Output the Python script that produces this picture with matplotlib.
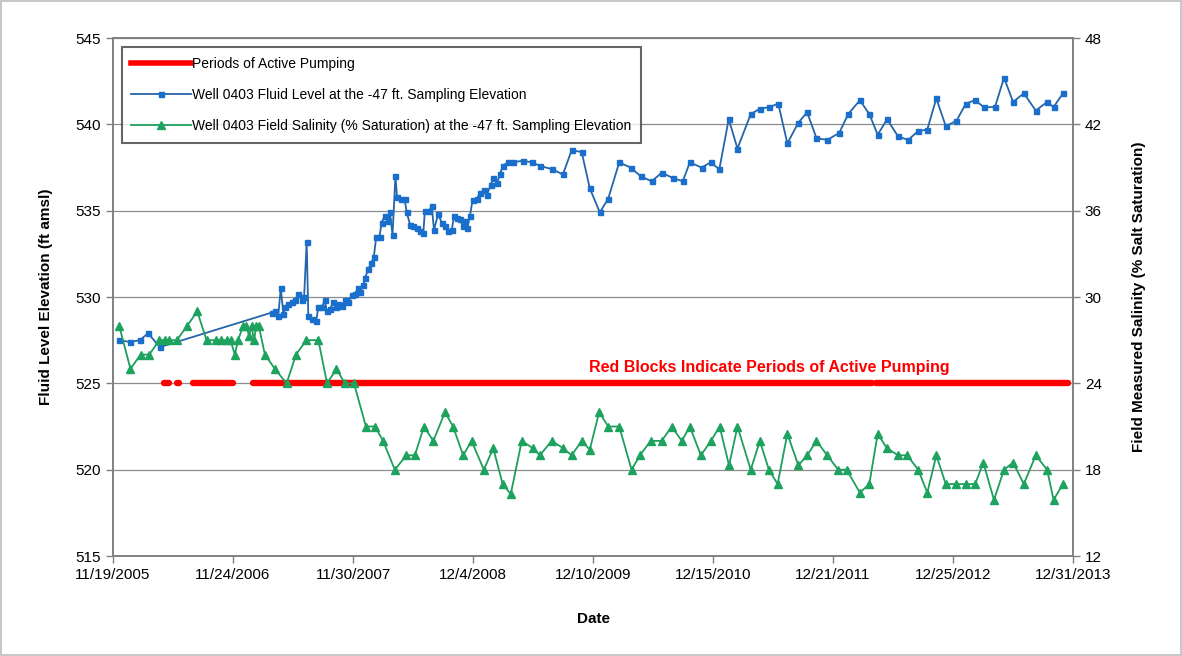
import matplotlib.pyplot as plt
import pandas as pd

plt.rcParams['font.family'] = ['Liberation Sans', 'DejaVu Sans']

# Well 0403 fluid level (ft amsl)
level_dates = [
    '2005-12-07', '2006-01-10', '2006-02-10', '2006-03-07', '2006-04-13',
    '2007-03-24', '2007-04-03', '2007-04-13', '2007-04-21', '2007-04-29',
    '2007-05-04', '2007-05-14', '2007-05-25', '2007-06-04', '2007-06-14',
    '2007-06-25', '2007-07-02', '2007-07-10', '2007-07-15', '2007-07-26',
    '2007-08-08', '2007-08-15', '2007-08-25', '2007-09-04', '2007-09-10',
    '2007-09-20', '2007-09-30', '2007-10-08', '2007-10-15', '2007-10-26',
    '2007-11-05', '2007-11-15', '2007-11-26', '2007-12-06', '2007-12-16',
    '2007-12-22', '2008-01-01', '2008-01-06', '2008-01-16', '2008-01-26',
    '2008-02-02', '2008-02-10', '2008-02-20', '2008-02-26', '2008-03-07',
    '2008-03-18', '2008-03-23', '2008-03-31', '2008-04-09', '2008-04-14',
    '2008-04-26', '2008-05-07', '2008-05-14', '2008-05-24', '2008-06-03',
    '2008-06-14', '2008-06-24', '2008-07-04', '2008-07-09', '2008-07-23',
    '2008-07-30', '2008-08-06', '2008-08-19', '2008-08-30', '2008-09-09',
    '2008-09-19', '2008-09-30', '2008-10-07', '2008-10-17', '2008-10-25',
    '2008-11-03', '2008-11-10', '2008-11-17', '2008-11-25', '2008-12-03',
    '2008-12-16', '2008-12-26', '2009-01-07', '2009-01-16', '2009-01-28',
    '2009-02-05', '2009-02-16', '2009-02-26', '2009-03-06', '2009-03-23',
    '2009-04-08', '2009-05-07', '2009-06-04', '2009-06-29', '2009-08-06',
    '2009-09-08', '2009-10-05', '2009-11-05', '2009-11-30', '2009-12-31',
    '2010-01-26', '2010-03-01', '2010-04-05', '2010-05-06', '2010-06-09',
    '2010-07-10', '2010-08-13', '2010-09-13', '2010-10-05', '2010-11-10',
    '2010-12-08', '2011-01-04', '2011-02-02', '2011-03-01', '2011-04-11',
    '2011-05-09', '2011-06-07', '2011-07-05', '2011-08-02', '2011-09-05',
    '2011-10-02', '2011-10-31', '2011-12-03', '2012-01-09', '2012-02-06',
    '2012-03-13', '2012-04-11', '2012-05-07', '2012-06-05', '2012-07-09',
    '2012-08-09', '2012-09-08', '2012-10-07', '2012-11-04', '2012-12-03',
    '2013-01-05', '2013-02-03', '2013-03-03', '2013-03-31', '2013-05-04',
    '2013-06-01', '2013-06-29', '2013-08-01', '2013-09-07', '2013-10-12',
    '2013-11-01', '2013-11-30',
]
level_ft = [
    527.5, 527.4, 527.5, 527.9, 527.1,
    529.1, 529.2, 528.9, 530.5, 529.0,
    529.4, 529.6, 529.7, 529.8, 530.2,
    529.8, 530.0, 533.2, 528.9, 528.7,
    528.6, 529.4, 529.4, 529.8, 529.2,
    529.3, 529.7, 529.4, 529.6, 529.5,
    529.8, 529.7, 530.1, 530.2, 530.5,
    530.3, 530.7, 531.1, 531.6, 532.0,
    532.3, 533.5, 533.5, 534.3, 534.7,
    534.4, 534.9, 533.6, 537.0, 535.8,
    535.7, 535.7, 534.9, 534.2, 534.1,
    534.0, 533.8, 533.7, 535.0, 535.0,
    535.3, 533.9, 534.8, 534.3, 534.1,
    533.8, 533.9, 534.7, 534.6, 534.5,
    534.1, 534.4, 534.0, 534.7, 535.6,
    535.7, 536.0, 536.2, 535.9, 536.5,
    536.9, 536.6, 537.1, 537.6, 537.8,
    537.8, 537.9, 537.8, 537.6, 537.4,
    537.1, 538.5, 538.4, 536.3, 534.9,
    535.7, 537.8, 537.5, 537.0, 536.7,
    537.2, 536.9, 536.7, 537.8, 537.5,
    537.8, 537.4, 540.3, 538.6, 540.6,
    540.9, 541.0, 541.2, 538.9, 540.1,
    540.7, 539.2, 539.1, 539.5, 540.6,
    541.4, 540.6, 539.4, 540.3, 539.3,
    539.1, 539.6, 539.7, 541.5, 539.9,
    540.2, 541.2, 541.4, 541.0, 541.0,
    542.7, 541.3, 541.8, 540.8, 541.3,
    541.0, 541.8,
]

# Well 0403 field salinity (% saturation)
salinity_dates = [
    '2005-12-08', '2006-01-12', '2006-02-12', '2006-03-11', '2006-04-11',
    '2006-04-29', '2006-05-12', '2006-06-04', '2006-07-06', '2006-08-06',
    '2006-09-04', '2006-10-03', '2006-10-18', '2006-11-05', '2006-11-17',
    '2006-11-30', '2006-12-10', '2006-12-26', '2007-01-05', '2007-01-13',
    '2007-01-21', '2007-01-28', '2007-02-05', '2007-02-12', '2007-03-03',
    '2007-04-03', '2007-05-09', '2007-06-07', '2007-07-09', '2007-08-15',
    '2007-09-11', '2007-10-10', '2007-11-05', '2007-12-03', '2008-01-09',
    '2008-02-06', '2008-03-02', '2008-04-07', '2008-05-13', '2008-06-08',
    '2008-07-06', '2008-08-04', '2008-09-09', '2008-10-04', '2008-11-04',
    '2008-11-30', '2009-01-07', '2009-02-05', '2009-03-06', '2009-03-31',
    '2009-05-04', '2009-06-07', '2009-06-29', '2009-08-04', '2009-09-09',
    '2009-10-05', '2009-11-05', '2009-11-30', '2009-12-29', '2010-01-26',
    '2010-03-01', '2010-04-08', '2010-05-04', '2010-06-06', '2010-07-10',
    '2010-08-10', '2010-09-10', '2010-10-05', '2010-11-08', '2010-12-09',
    '2011-01-05', '2011-02-03', '2011-03-01', '2011-04-11', '2011-05-09',
    '2011-06-06', '2011-07-03', '2011-08-02', '2011-09-05', '2011-10-02',
    '2011-10-31', '2011-12-03', '2012-01-06', '2012-02-01', '2012-03-13',
    '2012-04-11', '2012-05-07', '2012-06-04', '2012-07-09', '2012-08-06',
    '2012-09-09', '2012-10-07', '2012-11-04', '2012-12-03', '2013-01-05',
    '2013-02-03', '2013-03-04', '2013-03-29', '2013-05-01', '2013-06-01',
    '2013-06-29', '2013-08-01', '2013-09-07', '2013-10-12', '2013-11-01',
    '2013-11-30',
]
salinity_pct = [
    28, 25, 26, 26, 27,
    27, 27, 27, 28, 29,
    27, 27, 27, 27, 27,
    26, 27, 28, 28, 27.3,
    28, 27, 28, 28, 26,
    25, 24, 26, 27, 27,
    24, 25, 24, 24, 21,
    21, 20, 18, 19, 19,
    21, 20, 22, 21, 19,
    20, 18, 19.5, 17, 16.3,
    20, 19.5, 19, 20, 19.5,
    19, 20, 19.4, 22, 21,
    21, 18, 19, 20, 20,
    21, 20, 21, 19, 20,
    21, 18.3, 21, 18, 20,
    18, 17, 20.5, 18.3, 19,
    20, 19, 18, 18, 16.4,
    17, 20.5, 19.5, 19, 19,
    18, 16.4, 19, 17, 17,
    17, 17, 18.5, 15.9, 18,
    18.5, 17, 19, 18, 15.9,
    17,
]

# periods of active pumping (drawn at 525 ft)
pump_start = ['2006-04-25', '2006-06-06', '2006-07-25', '2007-01-25', '2012-05-03']
pump_end = ['2006-05-10', '2006-06-10', '2006-11-24', '2012-04-18', '2013-12-15']
pump_level = 525

tick_labels = ['11/19/2005', '11/24/2006', '11/30/2007', '12/4/2008', '12/10/2009',
               '12/15/2010', '12/21/2011', '12/25/2012', '12/31/2013']
tick_dates = pd.to_datetime(tick_labels, format='%m/%d/%Y')

fig = plt.figure(figsize=(11.82, 6.56), dpi=100)
fig.patch.set_edgecolor('#c8c8c8')
fig.patch.set_linewidth(1.5)
ax1 = fig.add_axes([0.0956, 0.1524, 0.8122, 0.7896])
ax2 = ax1.twinx()

for s, e in zip(pump_start, pump_end):
    ax1.plot(pd.to_datetime([s, e]), [pump_level, pump_level], color='#ff0000',
             lw=4.6, solid_capstyle='round', zorder=3)
red_handle, = ax1.plot([], [], color='#ff0000', lw=4, label='Periods of Active Pumping')

blue, = ax1.plot(pd.to_datetime(level_dates), level_ft, color='#2565a8', lw=1.3,
                 marker='s', ms=3.6, mfc='#1a6fcc', mec='#1a6fcc', zorder=4,
                 label='Well 0403 Fluid Level at the -47 ft. Sampling Elevation')
green, = ax2.plot(pd.to_datetime(salinity_dates), salinity_pct, color='#1e9e5e', lw=1.3,
                  marker='^', ms=5.6, mfc='#1ea35f', mec='#1ea35f',
                  label='Well 0403 Field Salinity (% Saturation) at the -47 ft. Sampling Elevation')

ax1.set_xlim(tick_dates[0], tick_dates[-1])
ax1.set_ylim(515, 545)
ax2.set_ylim(12, 48)
ax1.set_yticks(range(515, 546, 5))
ax2.set_yticks(range(12, 49, 6))
ax1.set_xticks(tick_dates)
ax1.set_xticklabels(tick_labels)

ax1.grid(axis='y', color='#8c8c8c', lw=0.9)
ax1.set_axisbelow(True)
for ax in (ax1, ax2):
    for sp in ax.spines.values():
        sp.set_color('#808080')
        sp.set_linewidth(1.2)
    ax.tick_params(labelsize=11, colors='#808080', labelcolor='black', length=5, width=1)

ax1.set_ylabel('Fluid Level Elevation (ft amsl)', fontsize=11, fontweight='bold', labelpad=16)
ax2.set_ylabel('Field Measured Salinity (% Salt Saturation)', fontsize=11, fontweight='bold',
               labelpad=22)
ax1.set_xlabel('Date', fontsize=11, fontweight='bold', labelpad=22)

ax1.text(0.684, 0.363, 'Red Blocks Indicate Periods of Active Pumping', transform=ax1.transAxes,
         color='#ff0000', fontsize=11.5, fontweight='bold', ha='center', va='center')

leg = ax2.legend(handles=[red_handle, blue, green], loc='upper left',
                 bbox_to_anchor=(0.009, 0.983), fontsize=10, frameon=True, fancybox=False,
                 edgecolor='#404040', labelspacing=1.25, handlelength=4.3, handletextpad=0.1,
                 borderpad=0.7, borderaxespad=0)
leg.get_frame().set_linewidth(1.5)

fig.savefig('out.png', dpi=100)
